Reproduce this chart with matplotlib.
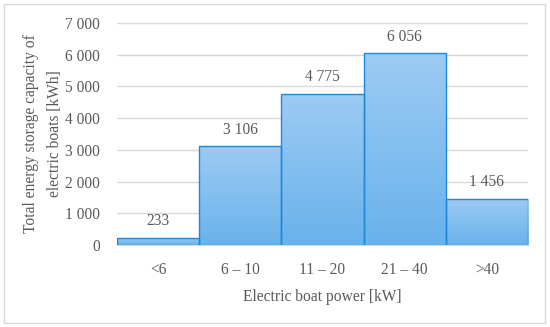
import matplotlib.pyplot as plt
from matplotlib.patches import Rectangle
import matplotlib.colors as mcolors
import numpy as np

categories = ["<6", "6 – 10", "11 – 20", "21 – 40", ">40"]
capacity = [233, 3106, 4775, 6056, 1456]
value_labels = ["233", "3 106", "4 775", "6 056", "1 456"]
yticks = [0, 1000, 2000, 3000, 4000, 5000, 6000, 7000]
ytick_labels = ["0", "1 000", "2 000", "3 000", "4 000", "5 000", "6 000", "7 000"]

plt.rcParams['font.family'] = ['Liberation Serif', 'DejaVu Serif']
text_color = "#595959"
fs = 11.2

fig = plt.figure(figsize=(5.5, 3.27), dpi=100)
ax = fig.add_axes([117 / 550, 1 - 245 / 327, 411 / 550, 222 / 327])

# outer border of the chart
fig.patches.append(Rectangle((4 / 550, 4 / 327), 541 / 550, 319 / 327, transform=fig.transFigure,
                             fill=False, edgecolor="#d9d9d9", linewidth=1.0))

x = np.arange(len(categories))
bars = ax.bar(x, capacity, width=1.0, color="none", edgecolor="#1e88d8", linewidth=1.0, zorder=3)

cmap = mcolors.LinearSegmentedColormap.from_list("blues", ["#9dcbf3", "#69b2ec"])
grad = np.linspace(0, 1, 256).reshape(-1, 1)
for b in bars:
    x0, w, h = b.get_x(), b.get_width(), b.get_height()
    im = ax.imshow(grad, cmap=cmap, aspect="auto", extent=(x0, x0 + w, 0, h),
                   origin="upper", zorder=2)
    im.set_clip_path(b)

for xi, v, lab in zip(x, capacity, value_labels):
    ax.annotate(lab, (xi, v), xytext=(0, 6), textcoords="offset points",
                ha="center", va="bottom", fontsize=fs, color=text_color)

ax.set_xlim(-0.5, len(categories) - 0.5)
ax.set_ylim(0, 7000)
ax.set_yticks(yticks)
ax.set_yticklabels(ytick_labels)
ax.set_xticks(x)
ax.set_xticklabels(categories)
ax.tick_params(axis="both", length=0, labelsize=fs, colors=text_color)
ax.tick_params(axis="y", pad=12)
ax.tick_params(axis="x", pad=12)
ax.grid(axis="y", color="#d9d9d9", linewidth=1.0, zorder=0)
ax.set_axisbelow(True)
for s in ["top", "right", "left"]:
    ax.spines[s].set_visible(False)
ax.spines["bottom"].set_color("#d9d9d9")

ax.set_xlabel("Electric boat power [kW]", fontsize=fs, color=text_color, labelpad=8)
ax.set_ylabel("Total energy storage capacity of\nelectric boats [kWh]", fontsize=fs,
              color=text_color, labelpad=2, linespacing=1.6)

plt.savefig("out.png", dpi=100)
